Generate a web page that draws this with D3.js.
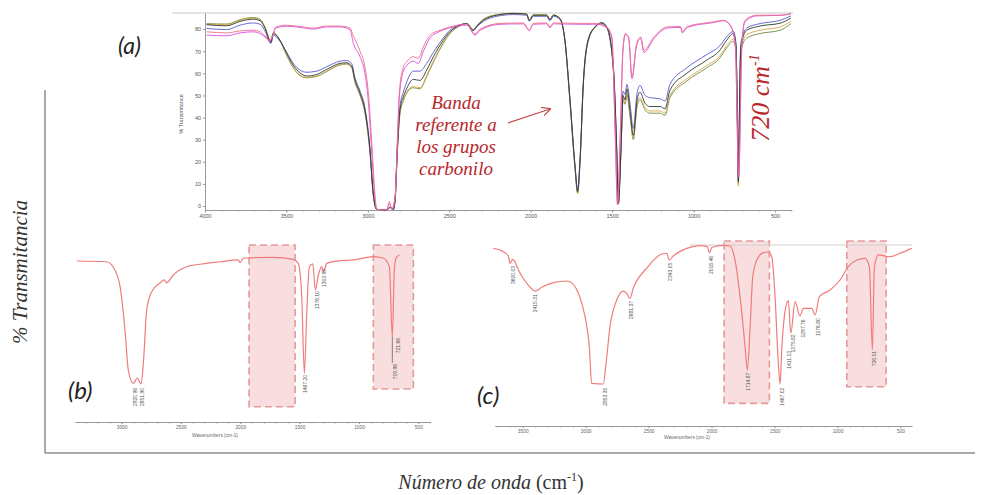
<!DOCTYPE html>
<html>
<head>
<meta charset="utf-8">
<script src="https://cdn.jsdelivr.net/npm/d3@7"></script>
<style>
  body { margin: 0; background: #fff; }
  svg { display: block; }
</style>
</head>
<body>
<div id="chart"></div>
<script>
// ---------- panel (a): overlaid spectra ----------
const aWave = [3990,3867,3785,3703,3662,3632,3595,3581,3540,3498,
  3458,3417,3376,3314,3253,3171,3130,3099,3079,3048,
  3018,2987,2967,2946,2884,2864,2844,2833,2819,2803,
  2782,2762,2721,2680,2639,2598,2537,2496,2434,2393,
  2353,2332,2291,2209,2107,2025,2009,1984,1902,1882,
  1861,1820,1790,1759,1728,1712,1697,1677,1647,1605,
  1564,1533,1493,1472,1462,1446,1433,1421,1409,1390,
  1370,1347,1329,1298,1268,1206,1175,1145,1042,919,
  838,797,756,740,731,725,719,710,674,592,
  469,402];
const aBlack = [82.0,81.5,83.5,84.5,83.8,80.5,74,78,75,69,
  63.7,60.3,58.8,59.5,61.8,64.5,64.8,63.2,57,51,
  43.4,25.3,5.7,-1.5,-1.8,-0.6,-1.5,2.7,25.3,43.4,
  49.4,53,57.3,56.8,61.5,67.5,75,78.8,81.8,82.6,
  79.5,81.2,84,86.3,87.1,86.8,84,86.3,86.3,84.3,
  86.3,84.8,75,47.9,17.8,6.5,20.8,55.5,75,81,
  82.9,81,63,25.3,1.2,25,50,48,53,43,
  32,48,51.5,46.5,45,45,44,52.4,60,66,
  70.5,75,78,72.8,40,10.8,40,72,79.5,81.4,
  82.7,85];
const aOlive = [82.5,82.3,84.3,85.3,84.5,81,74.5,78.5,75,68,
  62.5,59,58,58.6,60.8,63.8,64.2,62.5,56,50,
  42,24,5,-1.5,-1.8,-0.6,-1.5,2.2,24,41.5,
  47.5,51,53.5,53,58.5,65,73.5,78,81.5,82.5,
  79.8,81.5,84.5,86.5,87.2,86.8,84.2,86.5,86.4,84.5,
  86.4,84.8,74.5,47,17,6,20,54.5,74.5,80.8,
  82.5,80.5,62,24,1,24,48,46,50,40.5,
  30,45,48,43.5,42,42,41,49,56.5,62.5,
  67,71.5,74.5,70.5,39,10,39,70,76,78,
  79.5,82.5];
const aOrange = [82.3,82.0,84.0,85.0,84.2,80.8,74.2,78.2,74.8,68.3,
  62.8,59.3,58.2,58.8,61,64,64.4,62.8,56.3,50.3,
  42.5,24.5,5.2,-1.5,-1.8,-0.6,-1.5,2.4,24.5,42,
  48,51.5,54,53.5,59,65.5,74,78.3,81.6,82.5,
  79.6,81.3,84.2,86.4,87.1,86.7,84.1,86.4,86.3,84.4,
  86.3,84.7,74.7,47.3,17.3,5.5,20.3,55,74.7,80.9,
  82.7,80.7,62.4,24.4,0.8,24.5,49,46.5,51,41.5,
  30.5,46,49,44.5,43,43,42,50,57.5,63.5,
  68,72.5,75.5,71.5,38,9,38,71,77.5,79.5,
  81,83.5];
const aBlue = [80.3,79.8,81.8,82.8,82.2,79.2,73.5,77.3,74.5,69.5,
  64.5,61.5,60.5,61,63,65.5,65.8,64.3,58,52,
  44.5,26,6,-1.5,-1.8,-0.6,-1.5,3,26.5,45,
  51.5,56,61,61,64.5,69.5,76,79.5,82,82.5,
  79.3,81,83.5,85.8,86.6,86.3,83.5,85.8,85.8,83.8,
  85.8,84.3,75,48.5,18.5,7.5,21.5,56,75.5,81,
  82.8,81,64,26,1.5,26,52,50.5,55,46,
  35,51,54.5,50,49,48.5,47.5,55,62.5,68.5,
  72.5,76.5,79,74,41,12,41,73.5,80.5,82.5,
  84,86];

const a2Wave = [3990,3867,3785,3703,3662,3632,3601,3589,3564,3498,
  3417,3335,3253,3171,3110,3089,3048,3018,2998,2977,
  2956,2946,2884,2868,2853,2833,2819,2807,2782,2762,
  2721,2690,2659,2618,2557,2475,2393,2342,2311,2188,
  2046,2009,1984,1902,1882,1861,1697,1595,1533,1502,
  1481,1467,1450,1434,1419,1399,1378,1350,1325,1305,
  1243,1162,1080,1069,1039,876,815,774,744,723,
  703,684,612,469,402];
const aPink = [78.8,78.3,79.2,79.5,78.8,77,75,76.5,81,81.8,
  81.2,80.5,81.4,81.4,80.5,77,70,63,52,30,
  5,-1.5,-1.8,2,-1.5,4.2,29.8,51,63,65.2,
  67.5,66.8,72,77.3,79.5,81.4,82.3,77.8,80,82.6,
  82.8,79.8,82.6,82.8,81,82.8,82.6,82.6,81,76.5,
  32.8,1.2,32.8,70.5,78,76.5,58.4,73.5,76.5,70.5,
  76.5,81,81.2,78.8,81.2,83.3,84,81.8,73.5,14,
  73.5,84,86.3,86.3,87];
const aMagenta = [77.3,77,78.3,78.8,78,76.5,74.5,76,80.5,81.3,
  80.8,80,81,81,79.8,73.5,67.5,60,48,25.3,
  2.7,-1.5,-1.8,1,-1.5,3.5,28,49,61,63.5,
  65.5,64.5,70,76,79,81,81.8,77.3,79.5,82.2,
  82.4,79.3,82.2,82.4,80.6,82.4,82.2,82.2,80.6,76,
  32,0.5,32,70,77.5,76,57.5,72.5,75.8,69.5,
  75.8,80.5,80.8,78.3,80.8,83,83.8,81.5,73,13,
  73,83.5,86,86.2,87];

const aTicksX = [4000,3500,3000,2500,2000,1500,1000,500];
const aTicksY = [0,10,20,30,40,50,60,70,80];

// ---------- panel (b) ----------
const bWave = [3377,3125,3072,3013,2971,2943,2901,2867,2836,2816,
  2788,2746,2676,2642,2619,2564,2451,2324,2170,2016,
  2002,1974,1721,1553,1511,1482,1460,1440,1418,1389,
  1367,1342,1313,1300,1271,1159,1047,879,794,744,
  719,702,688,660];
const bT = [95.4,94.8,91,76,42.3,11.5,1.3,5.4,0.8,16.9,
  57.7,71.8,78.5,80.8,78.7,84.6,91,93.1,94.8,96.2,
  94.1,97.5,98.2,96.7,93.6,67.9,9,55.4,91,93.1,
  73.1,84.6,91,87.2,93.6,95.6,96.2,98.7,97.5,91,
  37.2,88.5,97.5,100];
const bPeaks = [["2920.96",2886,-1.5],["2851.90",2830,-1.5],["1467.20",1454,8.5],
  ["1376.10",1356,73],["1303.95",1291,90],["721.66",671,37],["719.96",696,17]];
const bBands = [[1926,1538,107.7,-16.7],[879,542,107.7,-3.1]];
const bTicks = [3000,2500,2000,1500,1000,500];

// ---------- panel (c) ----------
const cWave = [3734,3654,3614,3601,3579,3521,3456,3402,3349,3257,
  3151,3124,3058,3005,2971,2952,2860,2838,2807,2753,
  2701,2674,2648,2622,2515,2396,2356,2336,2304,2197,
  2092,2034,2018,1996,1907,1853,1814,1774,1734,1716,
  1695,1673,1641,1589,1549,1522,1496,1470,1456,1443,
  1417,1390,1371,1337,1298,1271,1205,1178,1144,1059,
  980,914,847,781,747,723,707,676,583,503,
  410];
const cT = [97.6,95.2,92.1,86.9,89.8,79.8,71.4,67.1,69.8,73.1,
  74.3,73.8,65.5,48.8,27.4,1.2,0.7,15.5,41.6,60.7,
  67.1,65.5,61.9,69.1,83.4,93.6,94.1,89.3,92.1,97.6,
  99.5,98.8,94.5,98.4,99.8,99.3,89.3,63.1,27.4,10.7,
  39.3,77.4,89.3,94.5,95,91.6,63.1,15.5,0.7,25,
  52.4,60.2,36.9,59.5,49.3,54.8,54.8,50,63.1,67.9,
  75,84.5,89.3,90.5,84.5,25,84.5,92.9,91.6,94.1,
  97.6];
const cPeaks = [["3600.03",3579,85.7],["3415.31",3397,65.5],["2853.30",2846,-1.2],
  ["2681.37",2640,60.7],["2343.05",2328,88],["2018.46",2007,92.9],["1714.87",1710,9.5],
  ["1467.02",1443,-1.2],["1411.13",1385,25],["1375.82",1353,36.9],["1297.76",1271,47.6],
  ["1176.80",1157,48.4],["726.51",710,25]];
const cBands = [[1901,1541,102.9,-13.1],[926,614,102.9,-1.2]];
const cTicks = [3500,3000,2500,2000,1500,1000,500];

const W = 981, H = 495;
const svg = d3.select("#chart").append("svg")
    .attr("width", W)
    .attr("height", H)
    .style("font-family", "'Liberation Sans', Arial, sans-serif");

const specRed = "#f07b7b";
const noteRed = "#b8262b";
const serif = "'Liberation Serif', 'Times New Roman', serif";
const plain = d3.format("d");

//Frame around the lower panels
svg.append("path")
    .attr("d", "M45,90V453H975")
    .attr("fill", "none")
    .attr("stroke", "#555")
    .attr("stroke-width", 1);

// helper: axis with small minor ticks
function bottomAxis(g, x, ticks, major, minorLen)
{
    let dom = x.domain();
    let lo = Math.min(dom[0], dom[1]), hi = Math.max(dom[0], dom[1]);
    let minor = d3.range(Math.ceil(lo / 100) * 100, hi, 100);
    g.append("g")
        .call(d3.axisBottom(x).tickValues(minor).tickSize(minorLen).tickSizeOuter(0).tickFormat(""))
        .call(s => s.selectAll("line,path").attr("stroke", "#999"));
    let ax = g.append("g")
        .call(d3.axisBottom(x).tickValues(ticks).tickSize(major).tickSizeOuter(0)
            .tickPadding(2).tickFormat(plain));
    ax.selectAll("line,path").attr("stroke", "#999");
    return ax;
}

///////// Panel (a) //////////////
const xA = d3.scaleLinear().domain([4000, 400]).range([205, 791.3]);
const yA = d3.scaleLinear().domain([-1.8, 87.3]).range([210, 13]);

svg.append("line")
    .attr("x1", 172).attr("x2", 793).attr("y1", 13).attr("y2", 13)
    .attr("stroke", "#c8c8c8");

let gA = svg.append("g");
let axA = bottomAxis(gA.append("g").attr("transform", "translate(0,210)"), xA, aTicksX, 2.5, 1.5);
axA.selectAll("text").attr("font-size", 5.5).attr("fill", "#555");

let ayA = gA.append("g").attr("transform", "translate(205,0)")
    .call(d3.axisLeft(yA).tickValues(aTicksY).tickSize(2).tickSizeOuter(0).tickPadding(2));
ayA.selectAll("line,path").attr("stroke", "#999");
ayA.selectAll("text").attr("font-size", 5.5).attr("fill", "#555");

gA.append("text")
    .attr("transform", "translate(183,114) rotate(-90)")
    .attr("text-anchor", "middle")
    .attr("font-size", 5.5)
    .attr("fill", "#555")
    .text("% Transmitance");

const lineA = (wave) => d3.line()
    .x((d, i) => xA(wave[i]))
    .y(d => yA(d))
    .curve(d3.curveMonotoneX);

const seriesA = [
    {wave: aWave, vals: aOlive, color: "#6e8f3c"},
    {wave: aWave, vals: aOrange, color: "#d8a347"},
    {wave: aWave, vals: aBlue, color: "#5a5ad0"},
    {wave: aWave, vals: aBlack, color: "#2e3b33"},
    {wave: a2Wave, vals: aMagenta, color: "#d94be0"},
    {wave: a2Wave, vals: aPink, color: "#ef6e8c"}
];
seriesA.forEach(s => {
    gA.append("path")
        .datum(s.vals)
        .attr("d", lineA(s.wave))
        .attr("fill", "none")
        .attr("stroke", s.color)
        .attr("stroke-width", 1.0)
        .attr("stroke-opacity", 0.9);
});

svg.append("text")
    .attr("x", 118).attr("y", 54)
    .attr("font-family", "Lato, 'Open Sans', sans-serif")
    .attr("font-style", "italic")
    .attr("font-size", 23)
    .attr("fill", "#222")
    .text("(a)");

// note about carbonyl band
const noteLines = ["Banda", "referente a", "los grupos", "carbonilo"];
svg.append("g").selectAll("text")
    .data(noteLines)
    .join("text")
    .attr("x", 456)
    .attr("y", (d, i) => 109 + i * 22)
    .attr("text-anchor", "middle")
    .attr("font-family", serif)
    .attr("font-style", "italic")
    .attr("font-size", 19)
    .attr("fill", noteRed)
    .text(d => d);

svg.append("defs").append("marker")
    .attr("id", "arr")
    .attr("viewBox", "0 0 10 10")
    .attr("refX", 9).attr("refY", 5)
    .attr("markerWidth", 9).attr("markerHeight", 9)
    .attr("markerUnits", "userSpaceOnUse")
    .attr("orient", "auto")
    .append("path")
    .attr("d", "M0,0L10,5L0,10")
    .attr("fill", "none")
    .attr("stroke", "#c24a4a")
    .attr("stroke-width", 1.3);

svg.append("line")
    .attr("x1", 508).attr("y1", 123).attr("x2", 550).attr("y2", 109)
    .attr("stroke", "#c24a4a")
    .attr("stroke-width", 1.2)
    .attr("marker-end", "url(#arr)");

let t720 = svg.append("text")
    .attr("transform", "translate(769,98) rotate(-90)")
    .attr("text-anchor", "middle")
    .attr("font-family", serif)
    .attr("font-style", "italic")
    .attr("font-size", 26)
    .attr("fill", noteRed);
t720.append("tspan").text("720 cm");
t720.append("tspan").attr("font-size", 14).attr("dy", -10).text("-1");

///////// Panels (b) and (c) //////////////
function spectrumPanel(cfg)
{
    let g = svg.append("g");
    let x = cfg.x, y = cfg.y;

    g.selectAll("rect.band")
        .data(cfg.bands)
        .join("rect")
        .attr("class", "band")
        .attr("x", d => x(d[0]))
        .attr("width", d => x(d[1]) - x(d[0]))
        .attr("y", d => y(d[2]))
        .attr("height", d => y(d[3]) - y(d[2]))
        .attr("fill", "#f2c3c3")
        .attr("fill-opacity", 0.55)
        .attr("stroke", "#e59a9a")
        .attr("stroke-width", 1.6)
        .attr("stroke-dasharray", "7,4");

    if (cfg.topLine)
        g.append("line")
            .attr("x1", cfg.topLine[0]).attr("x2", cfg.topLine[1])
            .attr("y1", y(100)).attr("y2", y(100))
            .attr("stroke", "#cfcfcf");

    g.append("path")
        .datum(cfg.vals)
        .attr("d", d3.line()
            .x((d, i) => x(cfg.wave[i]))
            .y(d => y(d))
            .curve(d3.curveMonotoneX))
        .attr("fill", "none")
        .attr("stroke", specRed)
        .attr("stroke-width", 1.2);

    g.selectAll("text.peak")
        .data(cfg.peaks)
        .join("text")
        .attr("class", "peak")
        .attr("transform", d => `translate(${x(d[1]) + 1.8},${y(d[2]) + 1}) rotate(-90)`)
        .attr("text-anchor", "end")
        .attr("font-size", 5)
        .attr("fill", "#555")
        .text(d => d[0]);

    let ax = bottomAxis(g.append("g").attr("transform", `translate(0,${cfg.axisY})`), x, cfg.ticks, 2, 1.5);
    ax.selectAll("text").attr("font-size", 4.8).attr("fill", "#666");

    g.append("text")
        .attr("x", cfg.xLabel[0]).attr("y", cfg.xLabel[1])
        .attr("text-anchor", "middle")
        .attr("font-size", 4.8)
        .attr("fill", "#666")
        .text("Wavenumbers (cm-1)");

    g.append("text")
        .attr("x", cfg.tag[0]).attr("y", cfg.tag[1])
        .attr("font-family", "Lato, 'Open Sans', sans-serif")
        .attr("font-style", "italic")
        .attr("font-size", 24)
        .attr("fill", "#222")
        .text(cfg.tag[2]);
    return g;
}

const xB = d3.scaleLinear().domain([3392, 400]).range([75, 430.2]);
const yB = d3.scaleLinear().domain([0, 100]).range([385, 255]);
let gB = spectrumPanel({x: xB, y: yB, wave: bWave, vals: bT, peaks: bPeaks, bands: bBands,
    ticks: bTicks, axisY: 422, xLabel: [215, 437], tag: [68, 399, "(b)"]});

// leader from the 720 peak down to its lower label
gB.append("line")
    .attr("x1", xB(719)).attr("x2", xB(719))
    .attr("y1", yB(37.2)).attr("y2", yB(17))
    .attr("stroke", "#666").attr("stroke-width", 0.8);

const xC = d3.scaleLinear().domain([3720, 410]).range([495, 911.8]);
const yC = d3.scaleLinear().domain([0, 100]).range([385, 245]);
spectrumPanel({x: xC, y: yC, wave: cWave, vals: cT, peaks: cPeaks, bands: cBands,
    ticks: cTicks, axisY: 426, xLabel: [687, 438.5], tag: [477, 404, "(c)"], topLine: [690, 912]});

///////// Shared axis titles //////////////
svg.append("text")
    .attr("transform", "translate(27,272) rotate(-90)")
    .attr("text-anchor", "middle")
    .attr("font-family", serif)
    .attr("font-style", "italic")
    .attr("font-size", 21)
    .attr("fill", "#333")
    .text("% Transmitancia");

let tx = svg.append("text")
    .attr("x", 491).attr("y", 489)
    .attr("text-anchor", "middle")
    .attr("font-family", serif)
    .attr("font-size", 20)
    .attr("fill", "#333");
tx.append("tspan").attr("font-style", "italic").text("Número de onda ");
tx.append("tspan").text("(cm");
tx.append("tspan").attr("font-size", 12).attr("dy", -8).text("-1");
tx.append("tspan").attr("dy", 8).text(")");
</script>
</body>
</html>
